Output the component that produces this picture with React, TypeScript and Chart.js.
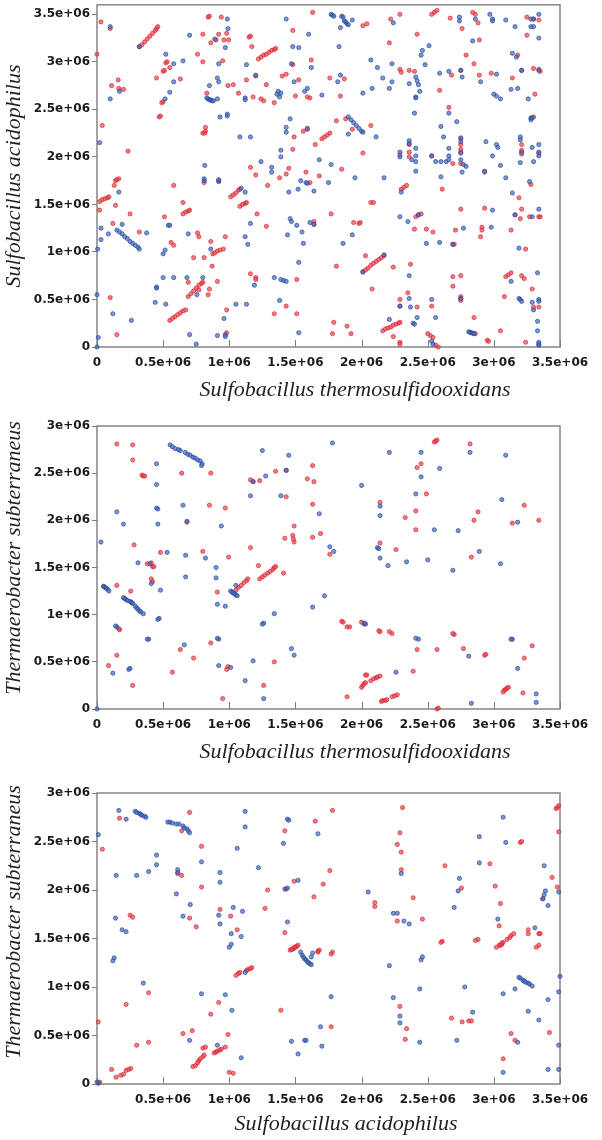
import React, { useEffect, useRef } from 'react';
import { Chart, registerables } from 'chart.js';
Chart.register(...registerables);

type P = [number, number];

// ---------- data (values in millions of bp) ----------
const panel1Red: P[] = [
  [0.00,3.08],[0.03,3.42],[0.10,3.35],[0.04,2.33],[0.11,2.75],[0.16,2.81],[0.165,2.72],[0.20,2.71],[0.235,2.06],
  [0.32,3.16],[0.34,3.18],[0.36,3.21],[0.38,3.24],[0.40,3.27],[0.42,3.30],[0.44,3.33],[0.45,3.35],[0.46,3.37],
  [0.47,2.42],[0.48,2.43],[0.49,2.57],[0.50,2.58],[0.45,2.83],[0.50,2.90],[0.51,2.91],[0.52,2.99],[0.53,3.00],[0.55,2.94],[0.63,2.82],
  [0.76,3.08],[0.80,3.29],[0.84,3.47],[0.85,3.48],[0.86,3.20],[0.90,3.23],[0.92,3.29],[0.94,3.47],[0.98,3.30],[0.96,3.23],[0.995,3.23],
  [0.95,3.01],[0.80,3.00],[0.99,2.75],[0.83,2.67],[0.82,2.31],[0.82,2.27],[0.80,2.25],[0.815,2.25],[1.03,2.76],[1.07,2.67],[1.13,2.81],
  [1.15,3.26],[1.16,3.27],[1.17,3.16],[1.18,2.63],[1.24,2.61],[1.26,2.59],[1.20,2.85],[1.28,2.76],
  [1.22,3.03],[1.24,3.05],[1.26,3.07],[1.28,3.08],[1.30,3.10],[1.32,3.12],[1.34,3.13],[1.35,3.14],
  [1.34,2.57],[1.48,3.33],[1.48,2.97],[1.40,2.85],[1.43,2.87],[1.525,2.81],[1.50,2.64],[1.49,2.21],[1.48,2.08],[1.45,1.88],
  [1.16,1.89],[1.20,1.81],[1.29,1.70],[1.38,1.78],[1.43,1.82],[0.81,1.73],[0.92,1.75],[0.58,1.70],
  [1.01,1.58],[1.03,1.60],[1.05,1.62],[1.07,1.65],[1.08,1.66],
  [0.13,1.70],[0.14,1.75],[0.165,1.77],[0.15,1.76],
  [0.02,1.53],[0.04,1.55],[0.06,1.56],[0.08,1.57],[0.09,1.58],
  [0.02,1.44],[0.14,1.49],[0.25,1.40],[0.12,1.30],[0.32,1.21],[0.10,0.52],[0.15,0.13],[0.51,1.37],[0.56,1.10],[0.58,1.07],
  [0.55,0.28],[0.57,0.30],[0.59,0.32],[0.61,0.34],[0.63,0.36],[0.65,0.38],[0.67,0.39],
  [0.65,1.52],[0.65,1.40],[0.67,1.42],[0.69,1.43],[0.70,1.44],
  [0.76,1.20],[0.77,1.16],[0.73,0.94],[0.81,0.94],[0.69,0.68],
  [0.69,0.53],[0.71,0.56],[0.73,0.59],[0.75,0.62],[0.77,0.65],[0.79,0.67],[0.80,0.68],
  [0.77,0.60],[0.84,0.55],[0.85,0.61],
  [0.875,0.98],[0.89,0.99],[0.91,1.01],[0.93,1.02],
  [0.955,1.03],[0.86,1.11],[0.87,0.85],[0.91,0.69],[0.97,1.16],[0.98,0.39],[0.98,0.15],[1.16,0.77],[1.20,0.73],[1.20,0.71],
  [1.08,1.48],[1.10,1.50],[1.12,1.51],[1.13,1.52],
  [1.21,1.40],[1.28,1.27],[1.43,0.43],[1.34,0.35],[1.51,0.35],[1.51,0.71],
  [1.63,3.52],[2.01,3.38],[2.04,3.40],[2.22,3.45],[2.29,3.50],[2.53,3.50],[2.55,3.52],[2.57,3.54],[2.42,3.29],[2.21,3.20],
  [2.67,3.46],[2.76,3.35],[2.84,3.52],[2.86,3.50],[2.88,3.41],[2.89,3.23],[3.25,3.47],[3.30,3.45],[3.34,3.44],[3.25,3.28],
  [1.62,3.02],[2.29,2.92],[2.30,2.89],[2.36,2.91],[2.40,2.90],[2.59,2.70],[2.68,2.86],[2.75,2.91],[2.79,3.07],[2.85,2.98],
  [2.89,2.86],[2.98,2.88],[3.14,2.83],[3.18,3.07],[3.21,2.91],[3.30,2.93],[3.34,2.92],[3.35,2.90],[3.31,2.66],
  [1.76,2.83],[1.87,2.82],[1.59,2.63],[1.61,2.62],[1.84,2.64],[1.88,2.40],[1.81,2.38],[1.93,2.29],[2.07,2.33],[2.66,2.52],
  [3.30,2.42],[1.59,2.29],[1.56,2.27],
  [1.70,2.19],[1.72,2.21],[1.74,2.23],[1.76,2.25],
  [1.65,2.13],[2.01,2.04],[1.85,1.87],[1.58,1.84],[1.68,1.80],[1.61,1.73],
  [2.30,1.66],[2.32,1.68],[2.34,1.70],
  [2.29,2.02],[2.36,2.13],[2.36,2.05],[2.36,2.00],[2.53,2.01],[2.61,1.66],[2.69,1.93],[2.75,2.19],[2.75,2.13],[2.75,2.08],
  [2.75,2.05],[2.75,1.93],[2.93,1.85],[3.21,2.13],[3.21,2.07],[3.21,2.03],[3.34,2.04],[3.28,1.71],[3.19,1.57],
  [2.07,1.52],[2.09,1.52],[1.77,1.40],[1.64,1.32],[1.64,1.29],[1.94,1.31],[1.98,1.30],[1.99,1.31],[1.81,0.85],
  [2.01,0.79],[2.03,0.81],[2.05,0.83],[2.07,0.86],[2.09,0.88],[2.11,0.90],[2.13,0.92],[2.15,0.94],[2.17,0.96],
  [2.03,0.96],[2.08,0.61],
  [2.41,1.37],[2.43,1.39],[2.45,1.40],
  [2.40,1.24],[2.49,1.24],[2.54,1.21],[2.24,0.84],[2.37,0.87],[2.35,0.57],[2.29,0.50],[2.29,0.43],[2.42,0.42],
  [2.16,0.17],[2.18,0.19],[2.20,0.20],[2.22,0.21],[2.24,0.23],[2.26,0.24],[2.28,0.25],[2.29,0.26],
  [1.79,0.26],[1.78,0.14],[1.89,0.22],[1.92,0.14],[2.24,0.11],[2.29,0.05],[2.29,0.03],[2.50,0.14],[2.52,0.12],[2.54,0.10],
  [2.56,0.02],[2.58,0.00],[2.53,0.43],[2.69,0.64],[2.69,0.74],[2.75,0.75],[2.75,0.53],[2.75,0.51],[2.75,0.49],[2.69,1.08],
  [2.70,1.08],[2.71,1.23],[2.75,1.45],[2.85,0.31],[2.86,0.14],[2.91,1.26],[2.91,1.23],[2.90,1.16],[2.93,1.46],[3.13,1.23],
  [3.16,1.39],[3.20,1.35],[3.21,1.45],[3.27,1.37],[3.34,1.37],[3.35,1.37],[3.24,1.03],
  [3.09,0.74],[3.11,0.76],[3.13,0.78],
  [3.21,0.75],[3.23,0.72],[3.29,0.61],[3.08,0.53],[3.30,0.42],[3.34,0.42],[3.05,0.17],[2.95,0.07],[2.96,0.06],[3.24,0.05],
];

const panel1Blue: P[] = [
  [0.10,3.37],[0.17,2.69],[0.10,2.61],[0.02,2.15],[0.32,3.16],[0.52,3.08],[0.58,2.98],[0.58,2.79],[0.55,2.68],[0.515,2.61],
  [0.65,3.01],[0.70,3.28],[0.985,3.45],[0.99,3.35],[0.89,3.24],[0.97,3.15],[0.92,2.98],[0.91,2.83],[0.92,2.79],[0.85,2.75],
  [0.83,2.62],[0.84,2.61],[0.85,2.60],[0.86,2.60],[0.87,2.59],[0.88,2.59],
  [0.91,2.61],[0.93,2.42],[0.985,2.45],[0.985,2.43],[1.08,2.21],[1.16,2.21],[1.13,2.97],[1.12,2.62],[1.12,2.60],[1.20,2.86],
  [1.36,2.66],[1.37,2.69],[1.38,2.63],[1.39,2.67],[1.43,3.45],[1.48,3.16],[1.47,2.98],[1.49,2.79],[1.525,3.15],[1.46,2.40],
  [1.43,2.31],[1.43,2.26],[1.39,2.07],[1.39,2.00],[1.32,1.89],[1.32,1.84],[1.24,1.95],[1.45,1.63],[1.52,1.66],[0.815,1.91],
  [0.81,1.75],[0.81,1.77],[0.92,1.74],[0.92,1.76],[1.12,1.63],[1.09,1.67],[0.165,1.63],
  [0.03,1.25],[0.03,1.13],[0.086,1.19],[0.19,1.29],
  [0.15,1.23],[0.17,1.21],[0.19,1.19],[0.21,1.16],[0.23,1.14],[0.25,1.11],[0.27,1.09],[0.29,1.07],[0.31,1.05],[0.32,1.03],
  [0.375,1.20],[0.005,1.03],[0.00,0.55],[0.12,0.35],[0.01,0.10],[0.26,0.28],[0.00,0.00],[0.45,0.63],[0.45,0.62],[0.50,0.73],
  [0.44,0.47],[0.52,0.45],[0.54,1.28],[0.55,1.28],[0.50,0.98],[0.515,1.02],[0.58,0.73],[0.69,1.19],[0.68,0.73],[0.80,0.73],
  [0.755,0.55],[0.70,0.13],[0.75,0.03],[0.86,1.03],[0.96,0.30],[0.97,0.13],[0.97,0.11],[0.91,0.12],[1.05,0.45],[1.13,0.45],
  [1.12,1.16],[1.14,1.08],[1.16,1.30],[1.19,0.65],[1.34,0.73],
  [1.39,0.71],[1.41,0.70],[1.43,0.69],
  [1.38,0.49],[1.44,1.18],[1.46,1.35],[1.47,1.32],[1.51,1.28],[1.525,0.89],[1.525,0.15],
  [1.77,3.50],[1.78,3.49],[1.79,3.48],[1.85,3.48],[1.86,3.47],
  [1.87,3.43],[1.88,3.42],[1.89,3.40],[1.90,3.39],
  [1.93,3.44],[1.84,3.36],[2.24,3.41],[2.74,3.47],[2.74,3.43],[2.86,3.45],[2.97,3.50],[2.99,3.45],[2.99,3.43],[3.09,3.44],
  [2.84,3.22],[3.16,3.37],[3.28,3.45],[3.30,3.45],[3.28,3.37],[3.30,3.37],[3.34,3.50],[3.34,3.25],[1.60,3.29],[1.83,3.16],
  [1.62,2.94],[2.07,3.02],[2.12,2.94],[2.23,2.98],[2.41,2.84],[2.42,2.80],[2.43,2.76],[2.44,2.69],[2.41,2.63],[2.41,2.62],
  [2.36,2.77],[2.51,3.17],[2.46,3.12],[2.45,3.07],[2.48,2.97],[2.40,2.46],[2.59,2.88],[2.66,2.90],[2.75,2.91],[2.76,2.84],
  [2.90,2.79],[3.02,2.87],[3.00,2.66],[3.02,2.64],[3.05,2.61],[3.13,2.71],[3.18,2.72],[3.14,3.09],[3.17,3.05],[3.21,2.91],
  [3.34,2.91],[3.26,2.61],[1.82,2.79],[1.84,2.86],[1.70,2.65],[1.57,2.69],[1.59,2.72],[2.01,2.67],[2.08,2.72],[2.16,2.83],
  [2.21,2.72],[2.23,2.79],
  [1.90,2.42],[1.92,2.39],[1.94,2.36],[1.96,2.33],[1.98,2.30],[2.00,2.27],[2.01,2.26],
  [1.90,2.24],[2.11,2.21],[2.66,2.46],[2.72,2.37],[2.60,2.32],[2.62,2.21],[3.28,2.41],[3.28,2.39],[3.29,2.41],[1.59,2.30],
  [1.68,1.97],[1.77,1.92],[1.54,1.75],[1.58,1.73],[1.59,1.72],[1.64,1.64],[1.75,1.73],[1.95,1.78],[2.17,1.78],[2.30,1.63],
  [2.29,2.05],[2.29,2.00],[2.36,2.17],[2.36,2.14],[2.41,2.09],[2.41,2.01],[2.38,1.97],[2.41,1.95],[2.41,1.85],[2.53,2.01],
  [2.56,1.95],[2.60,1.95],[2.60,1.79],[2.64,1.95],[2.66,2.09],[2.66,2.01],[2.66,1.97],[2.75,2.20],[2.75,2.16],[2.75,2.04],
  [2.75,1.97],[2.76,1.84],[2.77,1.92],[2.79,1.90],[2.94,2.16],[2.99,2.01],[3.02,2.13],[3.03,2.10],[3.05,1.91],[2.93,1.84],
  [3.09,1.78],[3.20,1.94],[3.20,2.21],[3.20,2.18],[3.21,2.05],[3.29,2.10],[3.30,1.95],[3.34,2.13],[3.34,2.05],[3.34,2.01],
  [3.27,1.74],[3.14,1.62],
  [1.61,1.31],[1.64,1.29],[1.55,1.21],[1.56,1.09],[1.93,1.18],[1.86,1.09],[2.01,0.79],[2.17,0.97],[2.29,1.37],[2.35,1.32],
  [2.43,1.39],[2.49,1.09],[2.59,1.10],[2.36,0.75],[2.36,0.51],[2.29,0.43],[2.37,0.42],[2.42,0.31],[2.39,0.25],[2.40,0.24],
  [2.21,0.29],[2.53,0.06],[2.54,0.03],[2.53,0.50],[2.56,0.31],[2.75,0.51],[2.69,1.08],[2.77,1.25],
  [2.81,0.16],[2.82,0.155],[2.83,0.15],[2.84,0.145],[2.85,0.14],
  [2.99,1.44],[2.98,1.26],[3.16,1.39],[3.29,1.37],[3.34,1.45],[3.19,1.04],[3.13,0.69],[3.33,0.78],[3.19,0.51],[3.20,0.50],
  [3.21,0.48],[3.29,0.47],[3.34,0.50],[3.34,0.48],[3.30,0.39],[3.33,0.27],[3.33,0.17],[3.34,0.05],[3.34,0.02],[3.34,0.03],
];

const panel2Red: P[] = [
  [0.15,2.81],[0.27,2.80],[0.27,2.64],[0.34,2.48],[0.35,2.47],[0.36,2.47],[0.28,1.74],[0.38,1.54],[0.41,1.55],[0.42,1.51],
  [0.43,1.51],[0.05,1.30],[0.15,1.31],[0.41,1.38],[0.42,1.35],[0.255,1.25],[0.26,1.13],[0.17,0.84],[0.48,1.66],[0.64,2.50],
  [0.86,2.50],[0.85,2.16],[0.97,2.13],[0.68,1.98],[0.80,1.67],[0.995,1.61],[0.91,1.24],
  [1.05,1.26],[1.07,1.29],[1.09,1.31],[1.11,1.34],[1.13,1.36],[1.14,1.38],
  [1.16,1.71],[1.16,2.43],[1.18,2.41],[1.23,2.42],[1.35,2.52],[1.43,2.53],[1.43,2.25],[1.49,1.94],[1.42,1.81],[1.48,1.84],
  [1.485,1.80],[1.49,1.77],[1.22,1.52],
  [1.23,1.38],[1.25,1.40],[1.27,1.42],[1.29,1.44],[1.31,1.46],[1.33,1.48],[1.34,1.50],[1.35,1.51],
  [1.41,1.44],
  [2.55,2.83],[2.56,2.84],[2.57,2.85],[2.82,2.81],[1.63,2.58],[1.59,2.44],[1.64,2.41],[2.42,2.56],[2.45,2.60],[2.49,2.28],
  [1.63,2.17],[2.14,2.19],[2.41,2.10],[2.33,2.03],[2.88,2.09],[2.85,2.00],[3.23,2.16],[3.14,1.97],[3.34,2.00],[2.41,1.90],
  [1.63,1.82],[1.69,1.86],[1.76,1.64],[2.14,1.76],[2.26,1.69],[2.83,1.61],[1.86,0.92],[1.91,0.87],[2.02,0.90],[2.14,0.82],
  [2.23,0.80],[2.70,0.79],
  [0.165,0.85],[0.087,0.46],[0.15,0.57],[0.27,0.25],[0.63,0.63],[0.57,0.39],[0.73,0.54],[0.86,0.70],[0.98,0.42],[0.99,0.45],
  [0.95,0.11],[1.26,0.25],[1.34,0.50],[1.85,0.93],[1.89,0.87],[1.89,0.13],[2.00,0.92],[2.13,0.83],[2.21,0.82],
  [2.00,0.23],[2.01,0.25],[2.02,0.27],[2.03,0.28],[2.03,0.36],[2.04,0.36],[2.07,0.30],[2.09,0.32],[2.11,0.33],[2.12,0.34],
  [2.14,0.35],[2.15,0.08],[2.16,0.09],[2.18,0.09],[2.19,0.10],[2.23,0.13],[2.25,0.14],[2.27,0.15],
  [2.39,0.40],[2.42,0.63],[2.57,0.63],[2.57,0.00],[2.58,0.01],[2.69,0.80],[2.77,0.64],[2.93,0.57],[2.94,0.58],
  [3.07,0.18],[3.08,0.20],[3.09,0.21],[3.10,0.22],[3.11,0.23],
  [3.23,0.54],[3.22,0.17],[3.29,0.67],
];

const panel2Blue: P[] = [
  [0.45,2.60],[0.45,2.38],[0.45,2.13],[0.46,2.12],[0.46,1.96],[0.15,2.09],[0.20,1.96],[0.03,1.77],[0.31,1.55],[0.40,1.54],
  [0.05,1.30],[0.06,1.29],[0.07,1.28],[0.08,1.27],[0.09,1.25],
  [0.41,1.33],[0.48,1.26],
  [0.20,1.18],[0.21,1.17],[0.22,1.16],[0.23,1.15],[0.25,1.14],[0.26,1.13],[0.27,1.12],[0.29,1.09],[0.30,1.07],[0.31,1.06],
  [0.32,1.04],[0.33,1.03],[0.35,1.01],
  [0.47,0.96],[0.15,0.87],[0.39,0.74],[0.53,1.66],
  [0.553,2.80],[0.570,2.78],[0.591,2.76],[0.616,2.75],[0.629,2.74],[0.667,2.72],[0.687,2.70],[0.705,2.69],[0.725,2.67],
  [0.742,2.66],[0.760,2.64],[0.780,2.63],[0.795,2.60],
  [0.79,2.58],[0.65,2.16],[0.68,1.99],[0.94,1.94],[0.67,1.63],[0.82,1.60],[0.67,1.40],[0.90,1.50],[0.90,1.39],[0.91,1.11],
  [0.97,1.09],[0.92,0.74],
  [1.01,1.25],[1.02,1.24],[1.03,1.23],[1.04,1.22],[1.05,1.21],[1.06,1.20],[1.05,1.31],
  [1.16,2.26],[1.18,2.41],[1.275,2.47],[1.25,2.74],[1.45,2.69],[1.43,2.53],[1.39,2.26],[1.26,0.91],[1.34,1.01],
  [1.78,2.82],[2.21,2.72],[2.45,2.72],[2.82,2.72],[3.09,2.69],[2.59,2.55],[2.45,2.46],[2.00,2.37],[2.41,2.28],[1.68,2.07],
  [2.14,2.15],[2.14,2.05],[3.06,2.22],[3.18,1.98],[2.55,1.90],[2.73,1.89],[1.76,1.72],[1.79,1.67],[2.12,1.71],[2.13,1.70],
  [2.14,1.60],[2.20,1.52],[2.34,1.56],[2.50,1.58],[2.69,1.47],[2.89,1.67],[3.05,1.54],[1.72,1.20],[1.63,1.08],[2.03,0.90],
  [2.43,0.74],[3.14,0.74],
  [0.14,0.88],[0.46,0.95],[0.38,0.74],[0.12,0.38],[0.24,0.42],[0.25,0.43],[0.66,0.68],[0.91,0.75],[0.92,0.46],[1.01,0.44],
  [1.18,0.51],[1.12,0.30],[1.26,0.11],[1.25,0.90],[1.47,0.64],[1.49,0.57],[2.02,0.91],[2.26,0.39],[2.41,0.75],[2.81,0.56],
  [2.83,0.06],[3.13,0.74],[3.18,0.43],[3.32,0.16],[3.32,0.07],[0.00,0.00],
];

const panel3Red: P[] = [
  [0.04,2.42],[0.17,2.74],[0.64,2.61],[0.70,2.80],[0.61,2.17],[0.64,2.15],[0.79,2.45],[0.79,2.03],[1.42,2.61],[1.49,2.09],
  [1.43,2.01],[1.29,2.00],[1.27,1.81],[0.70,1.71],[0.75,1.62],[0.93,1.80],[1.01,1.73],[1.06,1.59],[0.25,1.74],[0.27,1.72],
  [1.42,1.56],
  [1.48,1.39],[1.49,1.40],[1.50,1.41],[1.51,1.42],[1.52,1.43],
  [3.47,2.84],[3.48,2.85],[3.49,2.87],[3.49,2.60],[3.48,2.03],[1.78,2.82],[1.65,2.71],[2.31,2.85],[2.29,2.59],[2.27,2.47],
  [2.30,2.39],[2.30,2.21],[3.20,2.49],[3.21,2.50],[2.97,2.27],[2.63,2.25],[1.76,2.20],[1.71,2.06],[1.64,1.93],[2.10,1.87],
  [2.10,1.83],[2.27,1.68],[2.39,1.92],[2.46,1.70],[2.755,2.02],[3.01,2.04],[3.05,1.86],[3.04,1.63],
  [3.05,1.43],[3.06,1.44],[3.07,1.46],[3.10,1.49],[3.12,1.51],[3.13,1.53],[3.15,1.55],
  [2.88,1.49],[2.61,1.47],[3.26,1.59],[3.26,1.55],[3.34,1.55],[3.35,1.55],[3.34,1.43],[3.44,2.13],[3.37,1.91],[1.67,1.37],
  [1.68,1.38],[1.78,1.36],
  [0.39,0.94],[0.22,0.82],[0.01,0.64],[0.30,0.40],[0.39,0.43],[0.11,0.15],
  [0.145,0.07],[0.18,0.09],[0.20,0.10],[0.22,0.14],[0.24,0.15],[0.255,0.16],
  [0.01,0.01],[0.02,0.02],[0.65,0.52],[0.72,0.55],
  [0.725,0.18],[0.745,0.19],[0.76,0.22],[0.77,0.24],[0.78,0.26],[0.80,0.28],[0.81,0.30],[0.80,0.37],[0.82,0.38],
  [0.885,0.32],[0.90,0.33],[0.91,0.34],[0.93,0.35],[0.94,0.36],
  [0.97,0.38],[0.86,0.72],[0.92,0.84],[0.99,0.51],[1.00,0.12],[1.03,0.11],
  [1.05,1.12],[1.07,1.14],[1.08,1.15],[1.13,1.17],[1.14,1.18],[1.16,1.19],[1.17,1.20],
  [1.39,0.76],[1.46,1.38],[1.47,1.39],[1.49,1.41],[1.67,1.36],[1.77,1.34],[1.77,0.59],[2.29,0.80],[2.34,0.57],[2.33,0.46],
  [2.60,1.46],[2.68,0.68],[2.76,0.64],[2.81,0.65],[2.83,0.65],
  [3.02,1.41],[3.04,1.43],[3.06,1.45],[3.07,0.26],[3.13,0.52],[3.16,0.45],[3.32,1.41],[3.42,0.53],[2.86,1.48],
];

const panel3Blue: P[] = [
  [0.01,2.57],[0.165,2.82],[0.22,2.73],
  [0.29,2.81],[0.30,2.80],[0.32,2.79],[0.33,2.78],[0.34,2.77],[0.36,2.76],[0.37,2.75],
  [0.535,2.70],[0.55,2.70],[0.57,2.69],[0.60,2.68],[0.62,2.68],[0.65,2.66],[0.66,2.64],[0.68,2.63],[0.69,2.61],[0.70,2.59],
  [1.12,2.81],[1.12,2.65],[0.145,2.15],[0.30,2.15],[0.39,2.19],[0.45,2.36],[0.45,2.26],[0.61,2.21],[0.61,2.18],[0.60,1.96],
  [0.79,2.29],[0.93,2.18],[0.93,2.08],[1.06,2.43],[1.22,2.23],[1.41,2.48],[1.44,2.73],[1.45,2.72],[1.42,2.01],[1.44,2.02],
  [1.52,2.10],[0.705,1.85],[0.65,1.73],[0.92,1.74],[0.93,1.65],[1.03,1.82],[1.10,1.78],[1.015,1.55],[1.09,1.52],[1.015,1.44],
  [0.14,1.71],[0.19,1.59],[0.22,1.57],[0.13,1.30],[1.44,1.67],
  [1.67,2.58],[3.07,2.75],[2.89,2.55],[3.09,2.49],[2.89,2.28],[2.30,2.17],[2.05,1.98],[2.24,1.76],[2.27,1.76],[2.32,1.68],
  [2.36,1.65],[2.74,2.12],[2.73,1.99],[2.70,1.82],[3.03,1.70],[3.31,1.61],[3.38,2.25],[3.39,1.99],[3.38,1.95],[3.37,1.91],
  [3.41,1.84],[3.49,1.98],[1.63,1.35],[2.46,1.31],
  [1.54,1.36],[1.55,1.33],[1.56,1.31],[1.57,1.29],[1.58,1.28],[1.59,1.26],[1.60,1.25],[1.61,1.24],[1.62,1.23],
  [1.62,1.31],
  [0.12,1.27],[0.35,1.04],[0.01,0.01],[0.00,0.02],[0.70,0.45],[0.91,0.40],[0.79,0.93],[0.97,0.92],[1.02,0.76],[1.09,0.27],
  [1.00,1.41],[1.12,1.15],[1.77,0.90],[1.69,0.59],[1.47,0.44],[1.57,0.45],[1.58,0.45],[1.52,0.31],[1.70,0.39],[2.21,1.22],
  [2.45,1.28],[2.24,0.89],[2.44,0.98],[2.29,0.70],[2.29,0.63],[2.44,0.43],[2.72,0.45],[2.78,1.00],[2.84,0.74],[3.07,0.93],
  [3.07,0.12],
  [3.19,1.10],[3.20,1.09],[3.22,1.07],[3.23,1.06],[3.24,1.05],[3.26,1.04],[3.27,1.03],[3.29,1.01],
  [3.16,0.98],[3.26,0.75],[3.18,0.43],[3.34,0.66],[3.41,0.87],[3.41,0.15],[3.49,0.95],[3.49,0.40],[3.49,0.15],[3.50,1.11],
];

const xTitles = [
  'Sulfobacillus thermosulfidooxidans',
  'Sulfobacillus thermosulfidooxidans',
  'Sulfobacillus acidophilus',
];
const yTitles = [
  'Sulfobacillus acidophilus',
  'Thermaerobacter subterraneus',
  'Thermaerobacter subterraneus',
];
// tick values (millions)
const xTickValues = [0, 0.5, 1, 1.5, 2, 2.5, 3, 3.5];
const yTickValuesTop = [0, 0.5, 1, 1.5, 2, 2.5, 3, 3.5];
const yTickValuesLower = [0, 0.5, 1, 1.5, 2, 2.5, 3];
const yTickSets = [yTickValuesTop, yTickValuesLower, yTickValuesLower];
const xAxisMax = [3.5, 3.5, 3.5];
const yAxisMax = [3.6, 3.0, 3.0];

// ---------- helpers ----------
const M = 1e6;
const toPts = (arr: P[]) => arr.map(([x, y]) => ({ x: x * M, y: y * M }));
const fmt = (v: number) => (v === 0 ? '0' : `${+(v / M).toFixed(1)}e+06`);

const RED_FILL = 'rgba(232,70,80,0.7)';
const RED_LINE = 'rgba(218,35,48,0.85)';
const BLUE_FILL = 'rgba(70,105,185,0.7)';
const BLUE_LINE = 'rgba(40,75,160,0.88)';

const framePlugin = {
  id: 'frame',
  beforeDatasetsDraw(chart: any) {
    const { ctx, chartArea } = chart;
    const { left, top, right, bottom } = chartArea;
    ctx.save();
    ctx.strokeStyle = '#7d7d7d';
    ctx.lineWidth = 1.4;
    ctx.strokeRect(left, top, right - left, bottom - top);
    const xs = chart.scales.x;
    ctx.lineWidth = 1;
    xs.ticks.forEach((t: any) => {
      const px = Math.round(xs.getPixelForValue(t.value)) + 0.5;
      ctx.beginPath();
      ctx.moveTo(px, bottom);
      ctx.lineTo(px, bottom - 7);
      ctx.stroke();
    });
    ctx.restore();
  },
};

const titlePlugin = {
  id: 'axisTitles',
  afterDraw(chart: any, _args: any, opts: any) {
    const { ctx } = chart;
    ctx.save();
    ctx.fillStyle = '#1f1f1f';
    ctx.font = 'italic 22px "Liberation Serif", "Times New Roman", serif';
    ctx.textAlign = 'center';
    ctx.textBaseline = 'alphabetic';
    ctx.fillText(opts.xText, opts.xX, opts.xY);
    ctx.translate(opts.yX, opts.yY);
    ctx.rotate(-Math.PI / 2);
    ctx.textBaseline = 'middle';
    ctx.fillText(opts.yText, 0, 0);
    ctx.restore();
  },
};

type PanelProps = {
  idx: number;
  top: number;
  height: number;
  padTop: number;
  xHeight: number;
  red: P[];
  blue: P[];
  hideX0: boolean;
  xTitleX: number;
  xTitleY: number;
  yTitleY: number;
};

function Panel(p: PanelProps) {
  const ref = useRef<HTMLCanvasElement>(null);
  useEffect(() => {
    const tickFont = { family: '"DejaVu Sans", sans-serif', weight: 'bold' as const, size: 12 };
    const chart = new Chart(ref.current as HTMLCanvasElement, {
      type: 'scatter',
      data: {
        datasets: [
          {
            data: toPts(p.blue),
            backgroundColor: BLUE_FILL,
            borderColor: BLUE_LINE,
            borderWidth: 0.8,
            pointRadius: 2.1,
            clip: false as any,
          },
          {
            data: toPts(p.red),
            backgroundColor: RED_FILL,
            borderColor: RED_LINE,
            borderWidth: 0.8,
            pointRadius: 2.1,
            clip: false as any,
          },
        ],
      },
      options: {
        animation: false,
        responsive: false,
        events: [],
        layout: { padding: { top: p.padTop, right: 42, bottom: 0, left: 0 } },
        plugins: {
          legend: { display: false },
          tooltip: { enabled: false },
          axisTitles: {
            xText: xTitles[p.idx],
            xX: p.xTitleX,
            xY: p.xTitleY,
            yText: yTitles[p.idx],
            yX: 14,
            yY: p.yTitleY,
          },
        } as any,
        scales: {
          x: {
            type: 'linear',
            min: 0,
            max: xAxisMax[p.idx] * M,
            afterFit: (s: any) => {
              s.height = p.xHeight;
              s.paddingLeft = 0;
              s.paddingRight = 0;
            },
            afterBuildTicks: (s: any) => {
              s.ticks = xTickValues.map((v) => ({ value: v * M }));
            },
            grid: { display: false, drawTicks: false },
            border: { display: false },
            ticks: {
              autoSkip: false,
              maxRotation: 0,
              padding: 9,
              color: '#1a1a1a',
              font: tickFont,
              callback: (v: any) => (p.hideX0 && Number(v) === 0 ? '' : fmt(Number(v))),
            },
          },
          y: {
            type: 'linear',
            min: 0,
            max: yAxisMax[p.idx] * M,
            afterFit: (s: any) => {
              s.width = 97;
              s.paddingTop = 0;
              s.paddingBottom = 0;
            },
            afterBuildTicks: (s: any) => {
              s.ticks = yTickSets[p.idx].map((v) => ({ value: v * M }));
            },
            grid: { display: true, drawOnChartArea: false, drawTicks: true, tickLength: 5, color: '#7d7d7d' },
            border: { display: false },
            ticks: {
              autoSkip: false,
              padding: 2,
              color: '#1a1a1a',
              font: tickFont,
              callback: (v: any) => fmt(Number(v)),
            },
          },
        },
      },
      plugins: [framePlugin, titlePlugin],
    });
    return () => chart.destroy();
  }, []);
  return (
    <canvas
      ref={ref}
      width={602}
      height={p.height}
      style={{ position: 'absolute', left: 0, top: p.top, width: 602, height: p.height, display: 'block' }}
    />
  );
}

export default function App() {
  return (
    <div style={{ position: 'absolute', left: 0, top: 0, width: 602, height: 1140, background: '#fff', overflow: 'hidden' }}>
      <Panel idx={0} top={0} height={410} padTop={3} xHeight={63} red={panel1Red} blue={panel1Blue} hideX0={false}
        xTitleX={355} xTitleY={396} yTitleY={176} />
      <Panel idx={1} top={410} height={370} padTop={16} xHeight={71} red={panel2Red} blue={panel2Blue} hideX0={false}
        xTitleX={355} xTitleY={348} yTitleY={148} />
      <Panel idx={2} top={780} height={360} padTop={13} xHeight={56} red={panel3Red} blue={panel3Blue} hideX0={true}
        xTitleX={346} xTitleY={350} yTitleY={142} />
    </div>
  );
}
